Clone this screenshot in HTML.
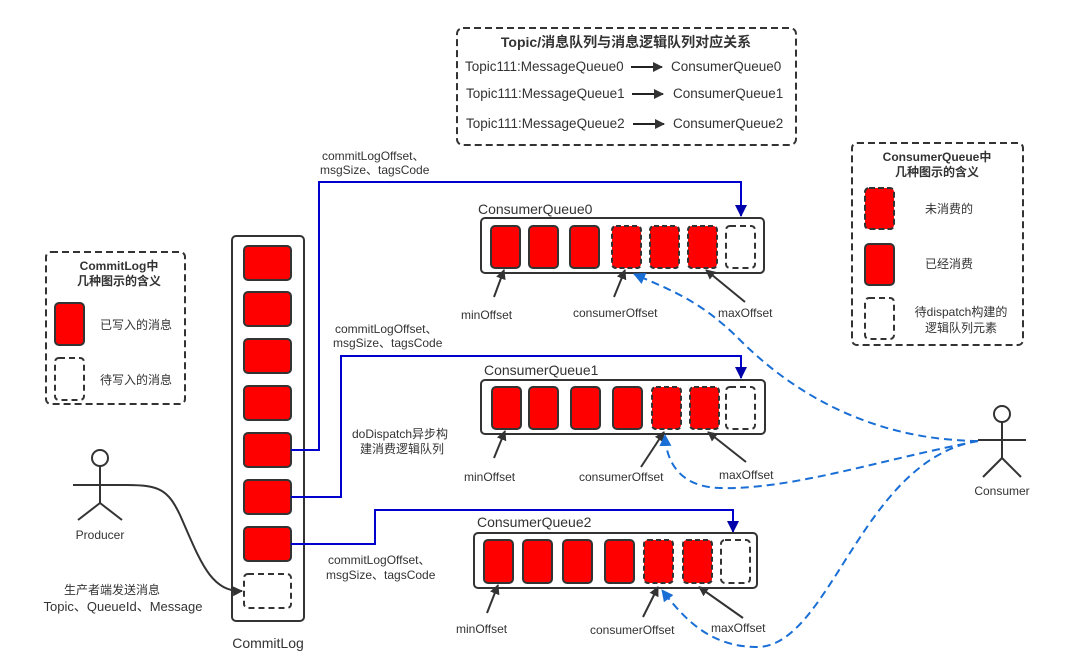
<!DOCTYPE html>
<html><head><meta charset="utf-8"><style>
html,body{margin:0;padding:0;background:#fff;}
svg{display:block;}
text{font-family:"Liberation Sans","Noto Sans CJK SC",sans-serif;fill:#333;}
</style></head><body>
<svg width="1080" height="672" viewBox="0 0 1080 672" xmlns="http://www.w3.org/2000/svg">
<defs>
<marker id="ab" markerWidth="10" markerHeight="10" refX="9" refY="5" orient="auto" markerUnits="userSpaceOnUse"><path d="M0,0 L10,5 L0,10 z" fill="#333"/></marker>
<marker id="an" markerWidth="12" markerHeight="12" refX="11" refY="6" orient="auto" markerUnits="userSpaceOnUse"><path d="M0,0 L12,6 L0,12 z" fill="#0000aa"/></marker>
<marker id="al" markerWidth="12" markerHeight="12" refX="11" refY="6" orient="auto" markerUnits="userSpaceOnUse"><path d="M0,0 L12,6 L0,12 z" fill="#1a6fd6"/></marker>
</defs>

<!-- Top box -->
<rect x="457" y="28" width="339" height="117" rx="6" fill="none" stroke="#333" stroke-width="2" stroke-dasharray="7,4"/>
<text x="626" y="47" font-size="14" font-weight="bold" text-anchor="middle" fill="#222">Topic/消息队列与消息逻辑队列对应关系</text>
<g font-size="13.5">
<text x="465" y="71">Topic111:MessageQueue0</text><text x="671" y="71">ConsumerQueue0</text>
<text x="466" y="98">Topic111:MessageQueue1</text><text x="673" y="98">ConsumerQueue1</text>
<text x="466" y="128">Topic111:MessageQueue2</text><text x="673" y="128">ConsumerQueue2</text>
</g>
<g stroke="#222" stroke-width="2" marker-end="url(#ab)">
<line x1="631" y1="67" x2="662" y2="67"/><line x1="632" y1="94" x2="663" y2="94"/><line x1="633" y1="124" x2="664" y2="124"/>
</g>

<!-- CommitLog legend -->
<rect x="46" y="252" width="139" height="152" rx="5" fill="none" stroke="#333" stroke-width="2" stroke-dasharray="7,4"/>
<text x="119" y="270" font-size="12" font-weight="bold" text-anchor="middle" fill="#222">CommitLog中</text>
<text x="119" y="285" font-size="12" font-weight="bold" text-anchor="middle" fill="#222">几种图示的含义</text>
<rect x="55" y="303" width="29" height="42" rx="4" fill="#f00" stroke="#333" stroke-width="2"/>
<rect x="55" y="358" width="29" height="42" rx="4" fill="none" stroke="#333" stroke-width="2" stroke-dasharray="6,4"/>
<text x="100" y="329" font-size="12">已写入的消息</text>
<text x="100" y="384" font-size="12">待写入的消息</text>

<!-- CQ legend -->
<rect x="852" y="143" width="171" height="202" rx="5" fill="none" stroke="#333" stroke-width="2" stroke-dasharray="7,4"/>
<text x="937" y="161" font-size="12" font-weight="bold" text-anchor="middle" fill="#222">ConsumerQueue中</text>
<text x="937" y="176" font-size="12" font-weight="bold" text-anchor="middle" fill="#222">几种图示的含义</text>
<rect x="865" y="188" width="29" height="41" rx="4" fill="#f00" stroke="#333" stroke-width="2" stroke-dasharray="6,3"/>
<rect x="865" y="244" width="29" height="41" rx="4" fill="#f00" stroke="#333" stroke-width="2"/>
<rect x="865" y="298" width="29" height="41" rx="4" fill="none" stroke="#333" stroke-width="2" stroke-dasharray="6,4"/>
<text x="949" y="213" font-size="12" text-anchor="middle">未消费的</text>
<text x="949" y="268" font-size="12" text-anchor="middle">已经消费</text>
<text x="961" y="316" font-size="12" text-anchor="middle">待dispatch构建的</text>
<text x="961" y="332" font-size="12" text-anchor="middle">逻辑队列元素</text>

<!-- CommitLog -->
<rect x="232" y="236" width="72" height="385" rx="4" fill="none" stroke="#333" stroke-width="2"/>
<g fill="#f00" stroke="#333" stroke-width="2">
<rect x="244" y="246" width="47" height="34" rx="4"/>
<rect x="244" y="292" width="47" height="34" rx="4"/>
<rect x="244" y="339" width="47" height="34" rx="4"/>
<rect x="244" y="386" width="47" height="34" rx="4"/>
<rect x="244" y="433" width="47" height="34" rx="4"/>
<rect x="244" y="480" width="47" height="34" rx="4"/>
<rect x="244" y="527" width="47" height="34" rx="4"/>
</g>
<rect x="244" y="574" width="47" height="34" rx="4" fill="none" stroke="#333" stroke-width="2" stroke-dasharray="6,4"/>
<text x="268" y="648" font-size="14" text-anchor="middle">CommitLog</text>

<!-- Blue connectors -->
<g fill="none" stroke="#0000cc" stroke-width="2">
<polyline points="291,450 319,450 319,182 741,182 741,216" marker-end="url(#an)"/>
<polyline points="291,497 341,497 341,356 741,356 741,378" marker-end="url(#an)"/>
<polyline points="291,544 375,544 375,510 733,510 733,532" marker-end="url(#an)"/>
</g>
<g font-size="12">
<text x="322" y="160">commitLogOffset、</text><text x="320" y="174">msgSize、tagsCode</text>
<text x="335" y="333">commitLogOffset、</text><text x="333" y="347">msgSize、tagsCode</text>
<text x="328" y="564">commitLogOffset、</text><text x="326" y="579">msgSize、tagsCode</text>
<text x="352" y="438">doDispatch异步构</text><text x="360" y="453">建消费逻辑队列</text>
</g>

<!-- CQ0 -->
<text x="478" y="214" font-size="14">ConsumerQueue0</text>
<rect x="481" y="218" width="283" height="55" rx="4" fill="none" stroke="#333" stroke-width="2"/>
<g fill="#f00" stroke="#333" stroke-width="2">
<rect x="491" y="226" width="29" height="42" rx="4"/><rect x="529" y="226" width="29" height="42" rx="4"/><rect x="570" y="226" width="29" height="42" rx="4"/>
<rect x="612" y="226" width="29" height="42" rx="4" stroke-dasharray="5,3"/><rect x="650" y="226" width="29" height="42" rx="4" stroke-dasharray="5,3"/><rect x="688" y="226" width="29" height="42" rx="4" stroke-dasharray="5,3"/>
<rect x="726" y="226" width="29" height="42" rx="4" fill="none" stroke-dasharray="6,4"/>
</g>
<g stroke="#333" stroke-width="2" marker-end="url(#ab)">
<line x1="494" y1="297" x2="504" y2="270"/><line x1="614" y1="297" x2="625" y2="270"/><line x1="745" y1="302" x2="706" y2="270"/>
</g>
<g font-size="12"><text x="461" y="319">minOffset</text><text x="573" y="317">consumerOffset</text><text x="718" y="317">maxOffset</text></g>

<!-- CQ1 -->
<text x="484" y="375" font-size="14">ConsumerQueue1</text>
<rect x="481" y="380" width="284" height="54" rx="4" fill="none" stroke="#333" stroke-width="2"/>
<g fill="#f00" stroke="#333" stroke-width="2">
<rect x="492" y="387" width="29" height="42" rx="4"/><rect x="529" y="387" width="29" height="42" rx="4"/><rect x="571" y="387" width="29" height="42" rx="4"/><rect x="613" y="387" width="29" height="42" rx="4"/>
<rect x="652" y="387" width="29" height="42" rx="4" stroke-dasharray="5,3"/><rect x="690" y="387" width="29" height="42" rx="4" stroke-dasharray="5,3"/>
<rect x="726" y="387" width="29" height="42" rx="4" fill="none" stroke-dasharray="6,4"/>
</g>
<g stroke="#333" stroke-width="2" marker-end="url(#ab)">
<line x1="494" y1="458" x2="505" y2="431"/><line x1="641" y1="467" x2="664" y2="432"/><line x1="746" y1="462" x2="708" y2="432"/>
</g>
<g font-size="12"><text x="464" y="481">minOffset</text><text x="579" y="481">consumerOffset</text><text x="719" y="479">maxOffset</text></g>

<!-- CQ2 -->
<text x="477" y="527" font-size="14">ConsumerQueue2</text>
<rect x="474" y="533" width="283" height="55" rx="4" fill="none" stroke="#333" stroke-width="2"/>
<g fill="#f00" stroke="#333" stroke-width="2">
<rect x="484" y="540" width="29" height="43" rx="4"/><rect x="523" y="540" width="29" height="43" rx="4"/><rect x="563" y="540" width="29" height="43" rx="4"/><rect x="605" y="540" width="29" height="43" rx="4"/>
<rect x="644" y="540" width="29" height="43" rx="4" stroke-dasharray="5,3"/><rect x="683" y="540" width="29" height="43" rx="4" stroke-dasharray="5,3"/>
<rect x="721" y="540" width="29" height="43" rx="4" fill="none" stroke-dasharray="6,4"/>
</g>
<g stroke="#333" stroke-width="2" marker-end="url(#ab)">
<line x1="487" y1="613" x2="498" y2="585"/><line x1="643" y1="617" x2="658" y2="587"/><line x1="743" y1="618" x2="699" y2="587"/>
</g>
<g font-size="12"><text x="456" y="633">minOffset</text><text x="590" y="634">consumerOffset</text><text x="711" y="632">maxOffset</text></g>

<!-- dashed blue curves -->
<g fill="none" stroke="#1a6fd6" stroke-width="2" stroke-dasharray="8,5" marker-end="url(#al)">
<path d="M978,441 C880,440 800,400 740,340 C700,300 670,290 634,274"/>
<path d="M978,441 C880,460 790,490 720,488 C680,487 666,462 665,435"/>
<path d="M978,441 C860,460 830,650 755,647 C710,646 685,620 662,590"/>
</g>

<!-- Consumer -->
<g stroke="#333" stroke-width="2" fill="none">
<circle cx="1002" cy="414" r="8"/>
<line x1="1002" y1="422" x2="1002" y2="458"/><line x1="978" y1="440" x2="1026" y2="440"/>
<line x1="1002" y1="458" x2="983" y2="477"/><line x1="1002" y1="458" x2="1021" y2="477"/>
</g>
<text x="1002" y="495" font-size="12" text-anchor="middle">Consumer</text>

<!-- Producer -->
<g stroke="#333" stroke-width="2" fill="none">
<circle cx="100" cy="458" r="8"/>
<line x1="100" y1="466" x2="100" y2="503"/><line x1="73" y1="485" x2="126" y2="485"/>
<line x1="100" y1="503" x2="78" y2="520"/><line x1="100" y1="503" x2="122" y2="520"/>
<path d="M126,485 C160,485 168,490 180,515 C200,560 210,592 242,591" marker-end="url(#ab)"/>
</g>
<text x="100" y="539" font-size="12" text-anchor="middle">Producer</text>
<text x="112" y="594" font-size="12" text-anchor="middle">生产者端发送消息</text>
<text x="123" y="611" font-size="13" text-anchor="middle">Topic、QueueId、Message</text>
</svg>
</body></html>
